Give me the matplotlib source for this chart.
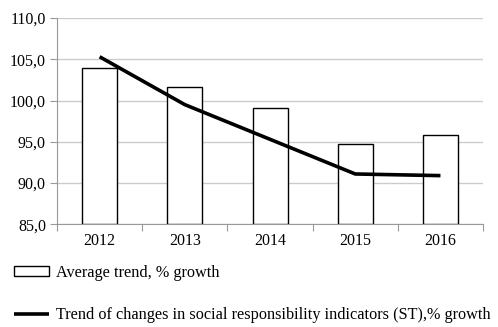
import matplotlib
matplotlib.use("Agg")
import matplotlib.pyplot as plt
import numpy as np

years = ["2012", "2013", "2014", "2015", "2016"]
average_trend = [104.0, 101.6, 99.1, 94.7, 95.8]
st_trend = [105.3, 99.5, 95.3, 91.1, 90.9]

plt.rcParams['font.family'] = ['Liberation Serif', 'DejaVu Serif']
plt.rcParams['font.size'] = 11.5

fig = plt.figure(figsize=(4.98, 3.27), dpi=100)
ax = fig.add_axes([0.1145, 0.314, 0.8555, 0.631])

x = np.arange(len(years))
bars = ax.bar(x, np.array(average_trend) - 85, bottom=85, width=0.41,
              color='white', edgecolor='black', linewidth=1.0, zorder=3,
              label='Average trend, % growth')
line, = ax.plot(x, st_trend, color='black', linewidth=2.6, zorder=4,
                solid_capstyle='butt',
                label='Trend of changes in social responsibility indicators (ST),% growth')

ax.set_ylim(85, 110)
ax.set_xlim(-0.5, len(years) - 0.5)
ax.set_yticks(np.arange(85, 111, 5))
ax.set_yticklabels([f"{v:.1f}".replace('.', ',') for v in np.arange(85, 111, 5)])

ax.set_xticks(np.arange(-0.5, len(years), 1.0))
ax.set_xticklabels([])
ax.set_xticks(x, minor=True)
ax.set_xticklabels(years, minor=True)
ax.tick_params(axis='x', which='minor', length=0, pad=6)
ax.tick_params(axis='x', which='major', length=5, color='#999999')
ax.tick_params(axis='y', length=5, color='#999999', pad=3)

ax.grid(axis='y', color='#cccccc', linewidth=1.0, zorder=0)
for s in ['top', 'right']:
    ax.spines[s].set_visible(False)
for s in ['left', 'bottom']:
    ax.spines[s].set_color('#999999')

fig.legend(handles=[bars, line], loc='upper left', bbox_to_anchor=(0.016, 0.21),
           frameon=False, handlelength=2.1, handleheight=0.55, labelspacing=1.6,
           handletextpad=0.45, borderaxespad=0, fontsize=11.7)

fig.savefig("out.png", dpi=100)
